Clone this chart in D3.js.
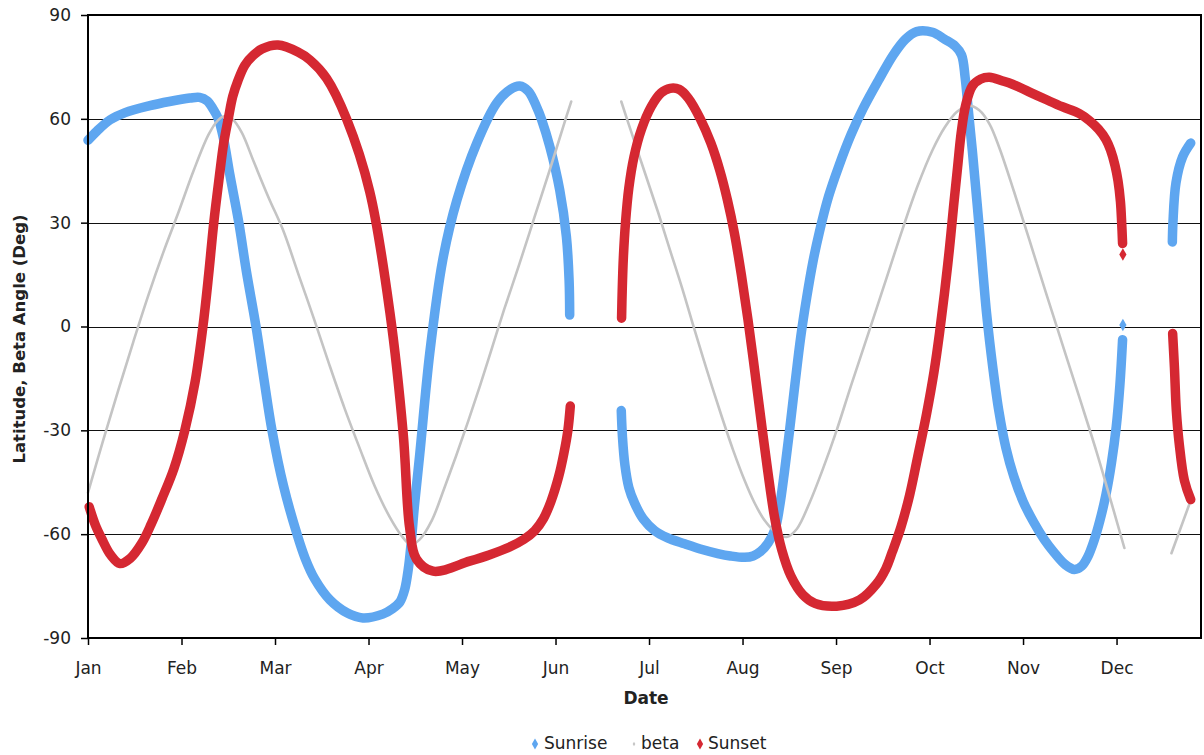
<!DOCTYPE html>
<html>
<head>
<meta charset="utf-8">
<script src="https://cdn.jsdelivr.net/npm/d3@7"></script>
<style>
body { margin: 0; background: #fff; }
text { font-family: "DejaVu Sans", Verdana, sans-serif; fill: #222; }
</style>
</head>
<body>
<div id="chart"></div>
<script>
// x values are day numbers from Jan 1, y values are degrees
const months = ['Jan','Feb','Mar','Apr','May','Jun','Jul','Aug','Sep','Oct','Nov','Dec'];
const monthTicks = [0, 31, 62, 93, 124, 155, 186, 217, 248, 279, 310, 341];
const yTicks = [-90, -60, -30, 0, 30, 60, 90];

const sunrise = [
  [[0,53.8],[3,56.5],[7.3,59.7],[12.3,61.8],[20.5,63.8],[27,65],[33.8,66],[37,66.2],[39.5,65.2],
   [41.5,62.8],[43.2,60],[45,54],[47,44],[50,30],[52.5,16],[55.7,0],[58.3,-15],[61,-30],[64.8,-46],
   [69.3,-60],[72,-67],[75.2,-73],[80.2,-79],[86,-82.8],[91.1,-84.2],[97.7,-83.1],[101,-81.5],
   [103.4,-79.6],[105,-76],[106.2,-70],[107.2,-62],[108.2,-52],[110,-36.8],[113.3,-7.7],[117.6,19.2],
   [122.3,36.5],[128.9,53],[135.5,64.6],[140,68.5],[143.1,69.5],[146,68],[148.7,63.5],[150.3,60],
   [153.1,52],[156.4,39.4],[158.6,26],[159.5,13.4],[159.7,3.3]],
  [[176.8,-24.3],[177.2,-32],[178,-40],[179.3,-46.5],[181.2,-51],[184,-55.5],[187.9,-59],[192,-61],
   [197.8,-62.8],[203,-64.3],[208.8,-65.6],[213,-66.3],[217.7,-66.7],[220.5,-66.3],[223,-65],
   [225.5,-62.5],[227.8,-58.5],[229.3,-52],[230.9,-42],[232.6,-30],[234.4,-16.5],[236.3,-3],
   [238.3,8.5],[240.3,18.5],[242.4,27],[245.5,37.5],[249,46.5],[253,55.5],[257,63],[262,71],
   [267,78.5],[271,83],[274.7,85.2],[280,85],[284,83],[287.5,81],[289.6,78.5],[290.8,72],[291.8,63],
   [293.2,50.7],[295.6,27.3],[297.9,3.9],[300,-12],[302,-24.5],[304.3,-35],[307,-43.5],[310,-50.5],
   [313.5,-56.5],[317,-61.5],[320.5,-65.5],[324,-68.8],[327,-70.2],[329.5,-69.2],[331.5,-66.5],
   [333.5,-62],[335.5,-56],[337.5,-48.5],[339.3,-39.5],[340.9,-29],[342.1,-17],[343,-3.8]],
  [[359.5,24.4],[359.7,30],[360.7,41.5],[362.9,49],[365.6,53]]
];
const sunriseDots = [[343.1,0.4]];

const beta = [
  [[0,-48],[5,-33],[10,-18.5],[15,-4.5],[20,9],[25,21.5],[30,33],[35,45],[40,55.5],[43,59.5],
   [45.4,60.8],[48,59.8],[51,56],[55,47.5],[60,37],[64.6,28],[70,14.5],[75,2],[80,-11],[85,-23.5],
   [90,-35],[95,-46],[100,-55],[104,-60.5],[107,-63],[110,-61.5],[114,-56],[118,-47],[122,-37.5],
   [126,-27.5],[130,-17],[134,-6],[138,5],[143,18],[148,31.5],[153,45],[158,59],[160.2,65]],
  [[176.8,65],[180,56.5],[184.6,44.5],[189,33],[192.8,22.5],[197,11],[201.1,-1],[205.5,-13.5],
   [210.1,-26],[214,-36],[217.7,-44.5],[221,-51],[224.3,-56],[228,-59.5],[231.6,-60.8],[235,-58.5],
   [239.2,-51],[243.5,-41.5],[248.2,-30],[253,-17],[259.1,-1],[264,12],[270,28],[275,40.5],[280,51],
   [284,57.5],[288,62],[292,63.8],[295.5,62.5],[298.9,58.5],[302.2,51.5],[307,39],[312.1,25],
   [317.5,10],[323,-5],[328.5,-20],[334.3,-36],[339,-50],[343.6,-64]],
  [[359.2,-65.5],[365.7,-50]]
];

const sunset = [
  [[0.4,-52.1],[2.5,-57.5],[4.6,-61.4],[7.5,-66],[10.6,-68.5],[14,-67],[17.9,-62.5],[21,-57],
   [24.5,-49.8],[28.5,-41],[32.1,-30],[35.5,-16],[38.1,0],[40,15],[41.7,30],[43.5,43],[45,53],
   [46.5,60],[48,66.5],[49.7,71],[52,75.5],[55,78.5],[57.7,80.2],[63,81.3],[69.6,79.3],[73.6,77],
   [79.1,71.7],[85.7,60],[93.4,39],[100.1,4],[104.5,-31],[106.6,-57.9],[108.9,-67.2],[114.4,-70.7],
   [126.5,-67.8],[133,-66],[139.8,-63.7],[144.5,-61.5],[148.1,-59],[151,-55.5],[153.5,-50.5],
   [156,-43.5],[157.8,-36.5],[159.1,-30],[159.9,-23]],
  [[176.9,2.4],[177.1,10],[177.5,20],[178.2,30],[179.3,40],[181,49],[183.5,57],[186.7,63.5],
   [190,67.5],[193,68.8],[196,68.5],[199,66],[203,60],[206.5,53],[209.5,45],[212,36.5],[214.3,27],
   [216.6,15],[218.8,2],[221,-12.5],[223.2,-27.5],[225.4,-42],[227.6,-55],[230,-64.5],[233,-72],
   [237,-77.5],[241,-80],[248.2,-80.8],[255.8,-79],[261.4,-74.4],[264.5,-70],[266.7,-65],
   [269.5,-58],[272.4,-48.7],[275,-38],[278,-25.3],[280.5,-13],[282.3,-2],[284,10],[285.6,22.5],
   [287,35],[288.3,46],[289.5,56],[291,64],[293.2,69.5],[296,71.5],[298.9,72],[303,71],[306.5,70],
   [312,67.8],[317.8,65.5],[323,63.5],[328.7,61.5],[332,59.5],[335,57],[337.5,54],[339,51],
   [340.5,46.5],[341.5,42],[342.3,36],[342.7,30],[343,24]],
  [[359.6,-2],[360.2,-12],[360.8,-24],[361.8,-34],[363.5,-44.5],[365.6,-50]]
];
const sunsetDots = [[343.1,20.8]];

const COLORS = { sunrise: '#5ea6f0', beta: '#c4c4c4', sunset: '#d52832' };

const W = 1204, H = 755;
const svg = d3.select('#chart').append('svg').attr('width', W).attr('height', H);

const x = d3.scaleLinear().domain([0, 369]).range([88, 1201]);
const y = d3.scaleLinear().domain([-90, 90]).range([638, 15]);

// gridlines
svg.append('g').selectAll('line')
  .data(yTicks.filter(v => Math.abs(v) < 90))
  .join('line')
  .attr('x1', x(0)).attr('x2', x(369))
  .attr('y1', d => Math.round(y(d)) + 0.5).attr('y2', d => Math.round(y(d)) + 0.5)
  .attr('stroke', '#111').attr('stroke-width', 1);

const line = d3.line()
  .x(d => x(d[0]))
  .y(d => y(d[1]))
  .curve(d3.curveCatmullRom.alpha(0.5));

const drawSeries = (segs, color, width) => {
  svg.append('g').selectAll('path')
    .data(segs)
    .join('path')
    .attr('d', line)
    .attr('fill', 'none')
    .attr('stroke', color)
    .attr('stroke-width', width)
    .attr('stroke-linejoin', 'round')
    .attr('stroke-linecap', 'round');
};

const diamond = d3.symbol().type(d3.symbolDiamond);

const drawDots = (dots, color, size) => {
  svg.append('g').selectAll('path')
    .data(dots)
    .join('path')
    .attr('d', diamond.size(size)())
    .attr('transform', d => `translate(${x(d[0])},${y(d[1])})`)
    .attr('fill', color);
};

drawSeries(sunrise, COLORS.sunrise, 9.5);
drawDots(sunriseDots, COLORS.sunrise, 45);
drawSeries(beta, COLORS.beta, 2.6);
drawSeries(sunset, COLORS.sunset, 9.5);
drawDots(sunsetDots, COLORS.sunset, 45);

// plot border
svg.append('rect')
  .attr('x', 88).attr('y', 15)
  .attr('width', 1201 - 88).attr('height', 638 - 15)
  .attr('fill', 'none').attr('stroke', '#000').attr('stroke-width', 2);

// axes
const yAxis = svg.append('g')
  .attr('transform', 'translate(88,0)')
  .call(d3.axisLeft(y).tickValues(yTicks).tickFormat(d => String(d)).tickSize(7).tickPadding(10));
const xAxis = svg.append('g')
  .attr('transform', 'translate(0,638)')
  .call(d3.axisBottom(x).tickValues(monthTicks).tickFormat((d, i) => months[i]).tickSize(7).tickPadding(17));

[yAxis, xAxis].forEach(g => {
  g.select('.domain').remove();
  g.selectAll('.tick line').attr('stroke', '#000').attr('stroke-width', 1.5);
  g.selectAll('.tick text').attr('font-size', 17).attr('fill', '#222')
    .attr('font-family', '"DejaVu Sans", Verdana, sans-serif');
});

// axis titles
svg.append('text')
  .attr('x', 646).attr('y', 704)
  .attr('text-anchor', 'middle')
  .attr('font-size', 17).attr('font-weight', 'bold')
  .text('Date');

svg.append('text')
  .attr('transform', 'translate(25,339) rotate(-90)')
  .attr('text-anchor', 'middle')
  .attr('font-size', 16.5).attr('font-weight', 'bold')
  .text('Latitude, Beta Angle (Deg)');

// legend
const legend = svg.append('g').attr('font-size', 17);
const legendItems = [
  { name: 'Sunrise', color: COLORS.sunrise, mx: 535, tx: 544, size: 34 },
  { name: 'beta', color: COLORS.beta, mx: 634, tx: 641, size: 6 },
  { name: 'Sunset', color: COLORS.sunset, mx: 700, tx: 708, size: 34 },
];
legendItems.forEach(it => {
  legend.append('path')
    .attr('d', diamond.size(it.size)())
    .attr('transform', `translate(${it.mx},744)`)
    .attr('fill', it.color);
  legend.append('text')
    .attr('x', it.tx).attr('y', 749)
    .text(it.name);
});
</script>
</body>
</html>
